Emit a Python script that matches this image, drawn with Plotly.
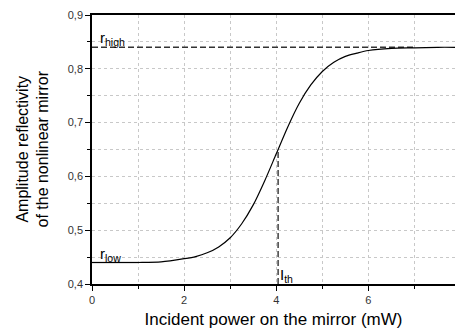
import plotly.graph_objects as go

# curve
power = [0, 0.5, 1.0, 1.5, 2.0, 2.25, 2.5, 2.75, 3.0, 3.25, 3.5, 3.75, 4.0,
         4.25, 4.5, 4.75, 5.0, 5.25, 5.5, 5.75, 6.0, 6.5, 7.0, 7.5, 7.9]
refl = [0.440, 0.440, 0.440, 0.441, 0.447, 0.451, 0.458, 0.469, 0.486, 0.512,
        0.547, 0.592, 0.642, 0.692, 0.736, 0.770, 0.795, 0.812, 0.823, 0.829,
        0.834, 0.838, 0.839, 0.840, 0.840]

r_low = 0.44
r_high = 0.84
i_th = 4.04
r_th = 0.646

fig = go.Figure()

# dashed guide lines
fig.add_trace(go.Scatter(x=[0, 7.0], y=[r_high, r_high], mode="lines",
                         line=dict(color="#333", width=1.4, dash="6px,3px"),
                         hoverinfo="skip"))
fig.add_trace(go.Scatter(x=[i_th, i_th], y=[0.4, r_th], mode="lines",
                         line=dict(color="#333", width=1.4, dash="6px,3px"),
                         hoverinfo="skip"))
fig.add_trace(go.Scatter(x=[0, 1.0], y=[r_low, r_low], mode="lines",
                         line=dict(color="#888", width=1.5),
                         hoverinfo="skip"))

fig.add_trace(go.Scatter(x=power, y=refl, mode="lines",
                         line=dict(color="black", width=1.2, shape="spline", smoothing=0.8)))

lab = dict(family="Liberation Sans, Arial", size=15, color="#000000")
fig.add_annotation(x=0.18, y=r_high, text="r<sub>high</sub>", showarrow=False,
                   xanchor="left", yanchor="bottom", font=lab, yshift=-3, xshift=-2)
fig.add_annotation(x=0.18, y=r_low, text="r<sub>low</sub>", showarrow=False,
                   xanchor="left", yanchor="bottom", font=lab, yshift=-4, xshift=-2)
fig.add_annotation(x=i_th, y=0.4, text="I<sub>th</sub>", showarrow=False,
                   xanchor="left", yanchor="bottom", font=lab, yshift=-3, xshift=0)

# y title placed by hand
fig.add_annotation(xref="paper", yref="paper", x=0, y=0.5, xshift=-60,
                   text="Amplitude reflectivity<br>of the nonlinear mirror",
                   textangle=-90, showarrow=False, xanchor="center", yanchor="middle",
                   font=dict(family="Liberation Sans, Arial", size=16, color="#000000"))

grid = dict(showgrid=True, gridcolor="#c8c8c8", gridwidth=1, griddash="dot")

fig.update_layout(
    width=455, height=334,
    margin=dict(l=92, r=0, t=15, b=50),
    paper_bgcolor="white", plot_bgcolor="white",
    showlegend=False,
    separators=", ",
    font=dict(family="Liberation Sans, Arial", color="#333"),
    xaxis=dict(range=[0, 7.88], dtick=2, tick0=0, **grid,
               showline=True, linecolor="black", linewidth=1.5, mirror=True,
               ticks="outside", ticklen=5, tickcolor="black", tickwidth=1.2,
               tickfont=dict(size=11, color="#333"),
               minor=dict(dtick=1, ticks="outside", ticklen=3, tickcolor="black",
                          showgrid=True, gridcolor="#c8c8c8", griddash="dot"),
               title=dict(text="Incident power on the mirror (mW)",
                          font=dict(size=17, color="#000000"), standoff=8),
               zeroline=False),
    yaxis=dict(range=[0.4, 0.9], dtick=0.1, tick0=0.4, tickformat=".1f", **grid,
               showline=True, linecolor="black", linewidth=1.5,
               ticks="outside", ticklen=5, tickcolor="black", tickwidth=1.2,
               tickfont=dict(size=11, color="#333"),
               minor=dict(dtick=0.05, ticks="outside", ticklen=3, tickcolor="black",
                          showgrid=True, gridcolor="#c8c8c8", griddash="dot"),
               zeroline=False),
)

fig.write_html("out.html", config={"displayModeBar": False},
               post_script="document.body.style.margin='0px';")
